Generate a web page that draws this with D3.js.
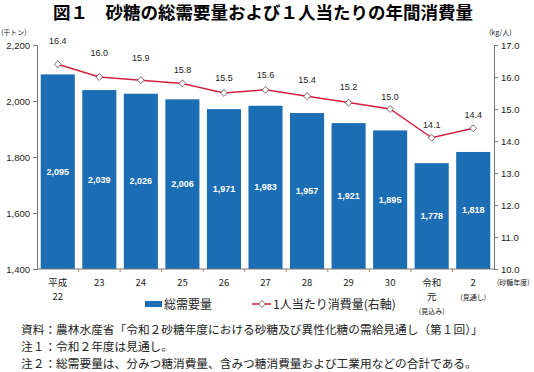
<!DOCTYPE html>
<html>
<head>
<meta charset="utf-8">
<script src="https://cdn.jsdelivr.net/npm/d3@7"></script>
<style>
  body { margin: 0; background: #fff; }
  svg { font-family: "Noto Sans CJK JP", "Noto Sans", sans-serif; }
</style>
</head>
<body>
<svg id="chart" width="534" height="372"></svg>
<script>
var categories = ["平成\n22", "23", "24", "25", "26", "27", "28", "29", "30", "令和\n元\n(見込み)", "2\n(見通し)"];
var demand = [2095, 2039, 2026, 2006, 1971, 1983, 1957, 1921, 1895, 1778, 1818];
var perCapita = [16.4, 16.0, 15.9, 15.8, 15.5, 15.6, 15.4, 15.2, 15.0, 14.1, 14.4];
var leftTicks = [1400, 1600, 1800, 2000, 2200];
var rightTicks = [10, 11, 12, 13, 14, 15, 16, 17];
var notes = [
  "資料：農林水産省「令和２砂糖年度における砂糖及び異性化糖の需給見通し（第１回）」",
  "注１：令和２年度は見通し。",
  "注２：総需要量は、分みつ糖消費量、含みつ糖消費量および工業用などの合計である。"
];

var barColor = "#1b6db4";
var lineColor = "#d4203f";
var axisColor = "#777";
// how far each value label sits above its marker
var labelGap = [23, 24, 22, 13, 15, 15, 16, 16, 12, 13, 13];

var svg = d3.select("#chart");
var plot = { left: 37, right: 494, top: 45, bottom: 269 };

var x = d3.scaleBand().domain(d3.range(categories.length)).range([plot.left, plot.right]).paddingInner(0.18).paddingOuter(0.09);
var y = d3.scaleLinear().domain([1400, 2200]).range([plot.bottom, plot.top]);
var y2 = d3.scaleLinear().domain([10, 17]).range([plot.bottom, plot.top]);
var cx = i => x(i) + x.bandwidth() / 2;

// title
svg.append("text")
  .attr("x", 263).attr("y", 19)
  .attr("text-anchor", "middle")
  .attr("font-size", 17.5).attr("font-weight", "bold")
  .text("図１　砂糖の総需要量および１人当たりの年間消費量");

// bars
svg.selectAll(".bar")
  .data(demand)
  .enter()
  .append("rect")
  .attr("class", "bar")
  .attr("x", (d, i) => x(i))
  .attr("width", x.bandwidth())
  .attr("y", d => y(d))
  .attr("height", d => y(1400) - y(d))
  .attr("fill", barColor);

svg.selectAll(".barlabel")
  .data(demand)
  .enter()
  .append("text")
  .attr("x", (d, i) => cx(i))
  .attr("y", d => (y(d) + y(1400)) / 2 + 3)
  .attr("text-anchor", "middle")
  .attr("font-size", 9).attr("font-weight", "bold")
  .attr("font-family", "Liberation Sans, Arial, sans-serif")
  .attr("fill", "#fff")
  .text(d => d3.format(",")(d));

// axes
var gl = svg.append("g")
  .attr("transform", `translate(${plot.left},0)`)
  .call(d3.axisLeft(y).tickValues(leftTicks).tickFormat(d3.format(",")).tickSize(4).tickPadding(3));
var gr = svg.append("g")
  .attr("transform", `translate(${plot.right},0)`)
  .call(d3.axisRight(y2).tickValues(rightTicks).tickFormat(d3.format(".1f")).tickSize(4).tickPadding(3));
var bounds = d3.range(1, categories.length).map(i => x(i) - x.step() * x.paddingInner() / 2);
var gx = svg.append("g");
gx.append("line").attr("x1", plot.left).attr("x2", plot.right).attr("y1", plot.bottom).attr("y2", plot.bottom).attr("stroke", axisColor);
gx.selectAll(".xt")
  .data(bounds)
  .enter()
  .append("line")
  .attr("x1", d => d).attr("x2", d => d)
  .attr("y1", plot.bottom).attr("y2", plot.bottom + 3)
  .attr("stroke", "#b8865a");

[gl, gr].forEach(g => {
  g.select(".domain").attr("stroke", axisColor);
  g.selectAll(".tick line").attr("stroke", axisColor);
  g.selectAll(".tick text")
    .attr("font-size", 9.5)
    .attr("font-family", "Liberation Sans, Arial, sans-serif")
    .attr("fill", "#222");
});

// category labels
categories.forEach((c, i) => {
  c.split("\n").forEach((p, j) => {
    var small = p.startsWith("(");
    svg.append("text")
      .attr("x", cx(i))
      .attr("y", 286 + j * 14)
      .attr("text-anchor", "middle")
      .attr("font-size", small ? 7 : 9.5)
      .attr("fill", "#222")
      .text(p);
  });
});

// unit labels
svg.append("text").attr("x", 1).attr("y", 35).attr("font-size", 7).attr("fill", "#222").text("(千トン)");
svg.append("text").attr("x", 489).attr("y", 35).attr("font-size", 7).attr("fill", "#222").text("(kg/人)");
svg.append("text").attr("x", 497).attr("y", 285).attr("font-size", 7).attr("fill", "#222").text("(砂糖年度)");

// line
var line = d3.line()
  .x((d, i) => cx(i))
  .y(d => y2(d));
svg.append("path")
  .datum(perCapita)
  .attr("d", line)
  .attr("fill", "none")
  .attr("stroke", lineColor)
  .attr("stroke-width", 1.5);

var diamond = d3.symbol().type(d3.symbolDiamond2).size(30);
svg.selectAll(".marker")
  .data(perCapita)
  .enter()
  .append("path")
  .attr("transform", (d, i) => `translate(${cx(i)},${y2(d)})`)
  .attr("d", diamond)
  .attr("fill", "#fff")
  .attr("stroke", "#6a3a40")
  .attr("stroke-width", 0.8);

svg.selectAll(".linelabel")
  .data(perCapita)
  .enter()
  .append("text")
  .attr("x", (d, i) => cx(i))
  .attr("y", (d, i) => y2(d) - labelGap[i] + 3)
  .attr("text-anchor", "middle")
  .attr("font-size", 9)
  .attr("font-family", "Liberation Sans, Arial, sans-serif")
  .attr("fill", "#222")
  .text(d => d.toFixed(1));

// legend
var lg = svg.append("g");
lg.append("rect").attr("x", 145).attr("y", 301).attr("width", 17).attr("height", 6).attr("fill", barColor);
lg.append("text").attr("x", 164).attr("y", 308.5).attr("font-size", 12).attr("fill", "#222").text("総需要量");
lg.append("line").attr("x1", 252).attr("x2", 271).attr("y1", 304).attr("y2", 304).attr("stroke", lineColor).attr("stroke-width", 1.5);
lg.append("path").attr("transform", "translate(262,304)").attr("d", diamond).attr("fill", "#fff").attr("stroke", "#6a3a40").attr("stroke-width", 0.8);
lg.append("text").attr("x", 273).attr("y", 308.5).attr("font-size", 12).attr("fill", "#222").text("1人当たり消費量(右軸)");

// notes
svg.selectAll(".note")
  .data(notes)
  .enter()
  .append("text")
  .attr("x", 21)
  .attr("y", (d, i) => 334 + i * 17)
  .attr("font-size", 11.7)
  .attr("fill", "#222")
  .text(d => d);
</script>
</body>
</html>
